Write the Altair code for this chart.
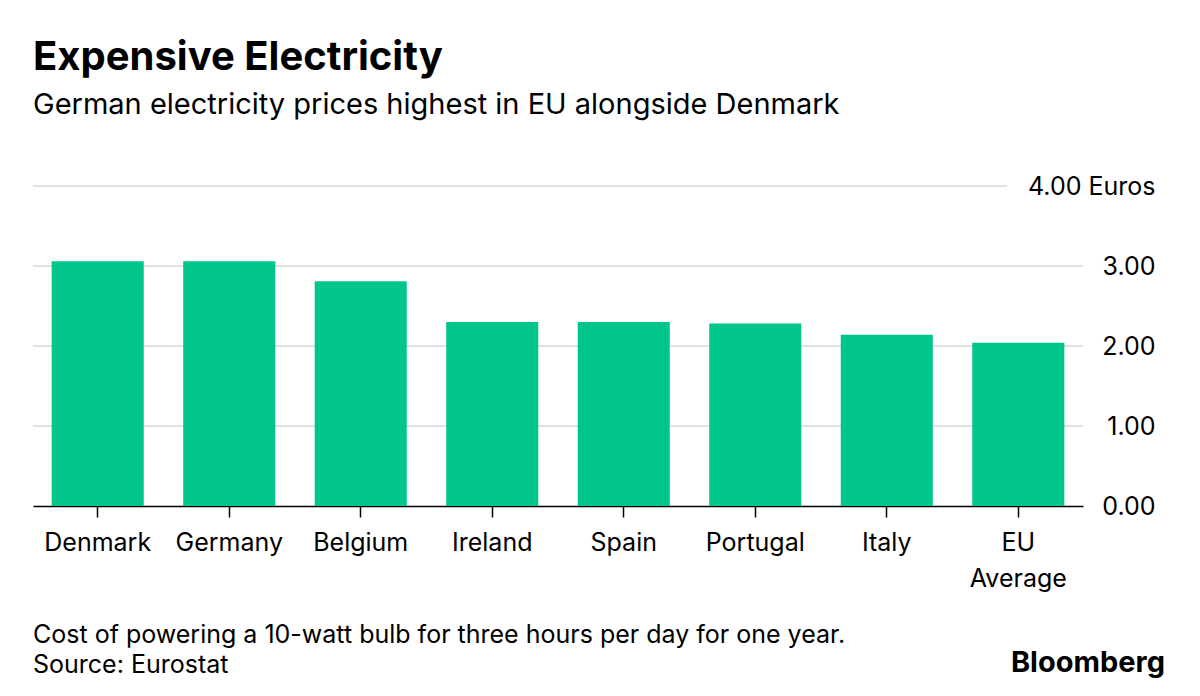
import altair as alt
import pandas as pd

COUNTRIES = ["Denmark", "Germany", "Belgium", "Ireland", "Spain", "Portugal", "Italy", "EU Average"]
PRICES = [3.06, 3.06, 2.81, 2.30, 2.30, 2.28, 2.14, 2.04]
Y_TICKS = [0, 1, 2, 3, 4]
TITLE = "Expensive Electricity"
SUBTITLE = "German electricity prices highest in EU alongside Denmark"
NOTE = "Cost of powering a 10-watt bulb for three hours per day for one year."
SOURCE = "Source: Eurostat"
BRAND = "Bloomberg"

W, H = 1050, 320
FONT = "Inter"
BAR = "#00c68c"
GRID = "#e1e1e1"

df = pd.DataFrame({"country": COUNTRIES, "price": PRICES})

x_enc = alt.X(
    "country:N", sort=COUNTRIES, title=None,
    scale=alt.Scale(paddingInner=0.3, paddingOuter=0.142),
    axis=alt.Axis(
        labelAngle=0, labelFont=FONT, labelFontSize=25, labelColor="#000",
        domainColor="#000", domainWidth=1.5, tickColor="#000", tickSize=11,
        tickWidth=1.5, labelPadding=13, labelLineHeight=36, grid=False,
        labelExpr="datum.value == 'EU Average' ? ['EU', 'Average'] : datum.value",
    ),
)

y_enc = alt.Y(
    "price:Q", title=None,
    scale=alt.Scale(domain=[Y_TICKS[0], Y_TICKS[-1]], nice=False),
    axis=alt.Axis(
        orient="right", values=Y_TICKS, ticks=False, tickSize=0, domain=False,
        grid=False, labelAlign="right", labelBaseline="middle", labelPadding=72,
        labelFont=FONT, labelFontSize=25, labelColor="#000",
        labelExpr="datum.value == 4 ? '4.00 Euros' : format(datum.value, '.2f')",
    ),
)

grid_low = alt.Chart(pd.DataFrame({"price": Y_TICKS[1:-1]})).mark_rule(
    color=GRID, strokeWidth=2
).encode(y=y_enc, x=alt.value(0), x2=alt.value(W))

grid_top = alt.Chart(pd.DataFrame({"price": Y_TICKS[-1:]})).mark_rule(
    color=GRID, strokeWidth=2
).encode(y=y_enc, x=alt.value(0), x2=alt.value(W - 76))

bars = alt.Chart(df).mark_bar(color=BAR).encode(x=x_enc, y=y_enc)


def txt(s, y, size, weight="normal", align="left", xpos=0):
    return alt.Chart(pd.DataFrame({"t": [s]})).mark_text(
        align=align, baseline="alphabetic", font=FONT, fontSize=size,
        fontWeight=weight, color="#000",
    ).encode(x=alt.value(xpos), y=alt.value(y), text="t:N")


chart = alt.layer(
    grid_low, grid_top, bars,
    txt(TITLE, -116, 40, "bold"),
    txt(SUBTITLE, -72, 29),
    txt(NOTE, 457, 25),
    txt(SOURCE, 487, 25),
    txt(BRAND, 486, 29, "bold", "right", 1132),
).properties(
    width=W, height=H,
    autosize=alt.AutoSizeParams(type="none"),
    padding={"left": 25, "top": 178, "right": 109, "bottom": 182},
).configure_view(stroke=None)

chart.save("out.html", embed_options={"renderer": "svg", "actions": False})
